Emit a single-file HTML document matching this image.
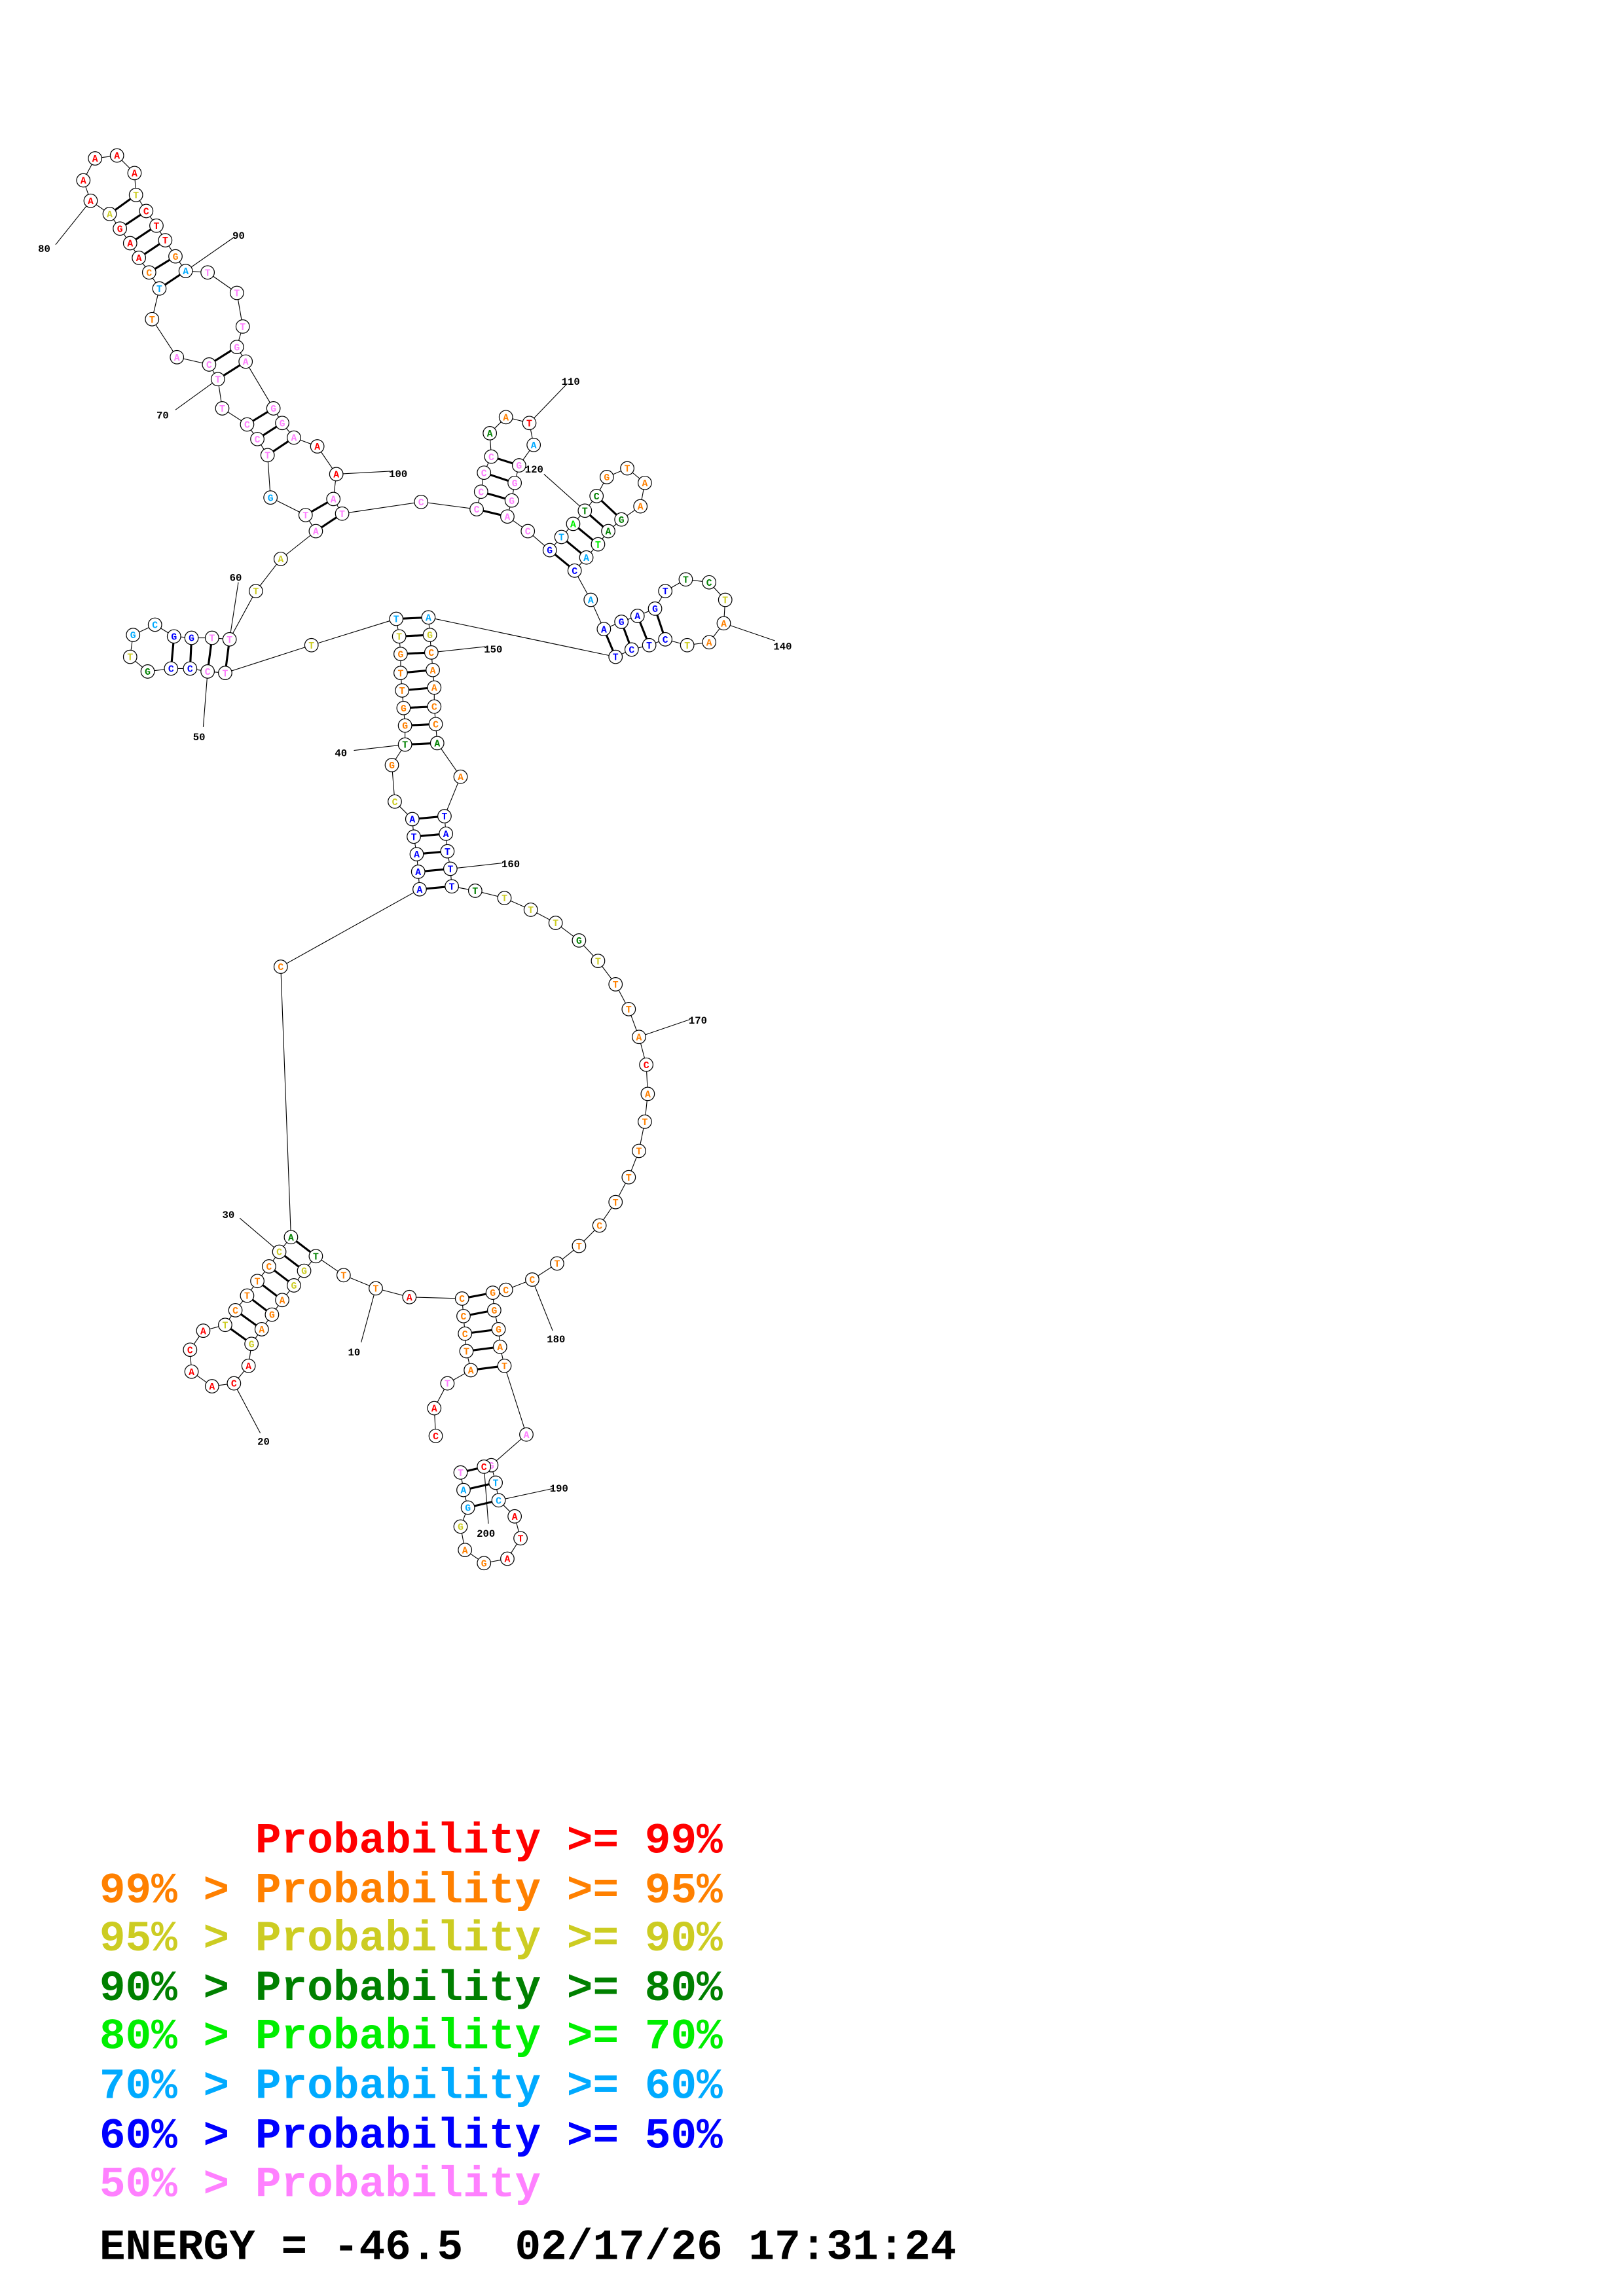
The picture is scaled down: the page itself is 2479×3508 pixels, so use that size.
<!DOCTYPE html>
<html><head><meta charset="utf-8">
<style>
html,body{margin:0;padding:0;background:#fff}
svg{display:block}
.n circle{fill:#fff;stroke:#000;stroke-width:0.55}
.n text{font-family:"Liberation Mono",monospace;font-weight:bold;font-size:6.6px;text-anchor:middle}
.r{fill:#ff0000}.o{fill:#ff8000}.y{fill:#cccc22}.g{fill:#008000}.l{fill:#00ee00}.c{fill:#00aaff}.b{fill:#0000ff}.p{fill:#ff80ff}
.lab{font-family:"Liberation Mono",monospace;font-weight:bold;font-size:7px;fill:#000}
.leg{font-family:"Liberation Mono",monospace;font-weight:bold;font-size:29.6px;white-space:pre}
</style></head><body>
<svg width="2479" height="3508" viewBox="0 0 1110 1570" xmlns="http://www.w3.org/2000/svg">
<rect width="1110" height="1570" fill="#fff"/>
<polyline fill="none" stroke="#000" stroke-width="0.5" points="298,982 297,963 306,946 322,937 319,924 318,912 317,900 316,888 280,887 257,881 235,872 216,859 208,869 201,879 193,889 186,899 179,909 172,919 170,934 160,946 145,948 131,938 130,923 139,910 154,906 161,896 169,886 176,876 184,866 191,856 199,846 192,661 287,608 286,596 285,584 283,572 282,560 270,548 268,523 277,509 277,496 276,484 275,472 274,460 274,447 273,435 271,423 213,441 154,460 142,459 130,457 117,457 101,459 89,449 91,434 106,427 119,435 131,436 145,436 157,437 175,404 192,382 216,363 209,352 185,340 183,311 176,300 169,290 152,279 149,259 143,249 121,244 104,218 109,197 102,186 95,176 89,166 82,156 75,146 62,137 57,123 65,108 80,106 92,118 93,133 100,144 107,154 113,164 120,175 127,185 142,186 162,200 166,223 162,237 168,247 187,279 193,289 201,299 217,305 230,324 228,341 234,351 288,343 326,348 329,336 331,323 336,312 335,296 346,285 362,289 365,304 355,318 352,330 350,342 347,353 361,363 376,376 384,367 392,358 400,349 408,339 415,326 429,320 441,330 438,346 425,355 416,363 409,372 401,381 393,390 404,410 413,430 425,425 436,421 448,416 455,404 469,396 485,398 496,410 495,426 485,439 470,441 455,437 444,441 432,444 421,449 293,422 294,434 295,446 296,458 297,470 297,483 298,495 299,508 315,531 304,558 305,570 306,582 308,594 309,606 325,609 345,614 363,622 380,631 396,643 409,657 421,673 430,690 437,709 442,728 443,748 441,767 437,787 430,805 421,822 410,838 396,852 381,864 364,875 346,882 337,884 338,896 341,909 342,921 345,934 360,981 336,1002 339,1014 341,1026 352,1037 356,1052 347,1066 331,1069 318,1060 315,1044 320,1031 317,1019 315,1007 331,1003"/>
<g stroke="#000" stroke-width="1.4">
<line x1="75" y1="146" x2="93" y2="133"/><line x1="82" y1="156" x2="100" y2="144"/><line x1="89" y1="166" x2="107" y2="154"/><line x1="95" y1="176" x2="113" y2="164"/><line x1="102" y1="186" x2="120" y2="175"/><line x1="109" y1="197" x2="127" y2="185"/>
<line x1="143" y1="249" x2="162" y2="237"/><line x1="149" y1="259" x2="168" y2="247"/>
<line x1="169" y1="290" x2="187" y2="279"/><line x1="176" y1="300" x2="193" y2="289"/><line x1="183" y1="311" x2="201" y2="299"/>
<line x1="209" y1="352" x2="228" y2="341"/><line x1="216" y1="363" x2="234" y2="351"/>
<line x1="119" y1="435" x2="117" y2="457"/><line x1="131" y1="436" x2="130" y2="457"/><line x1="145" y1="436" x2="142" y2="459"/><line x1="157" y1="437" x2="154" y2="460"/>
<line x1="271" y1="423" x2="293" y2="422"/><line x1="273" y1="435" x2="294" y2="434"/><line x1="274" y1="447" x2="295" y2="446"/><line x1="274" y1="460" x2="296" y2="458"/><line x1="275" y1="472" x2="297" y2="470"/><line x1="276" y1="484" x2="297" y2="483"/><line x1="277" y1="496" x2="298" y2="495"/><line x1="277" y1="509" x2="299" y2="508"/>
<line x1="282" y1="560" x2="304" y2="558"/><line x1="283" y1="572" x2="305" y2="570"/><line x1="285" y1="584" x2="306" y2="582"/><line x1="286" y1="596" x2="308" y2="594"/><line x1="287" y1="608" x2="309" y2="606"/>
<line x1="199" y1="846" x2="216" y2="859"/><line x1="191" y1="856" x2="208" y2="869"/><line x1="184" y1="866" x2="201" y2="879"/><line x1="176" y1="876" x2="193" y2="889"/><line x1="169" y1="886" x2="186" y2="899"/><line x1="161" y1="896" x2="179" y2="909"/><line x1="154" y1="906" x2="172" y2="919"/>
<line x1="316" y1="888" x2="337" y2="884"/><line x1="317" y1="900" x2="338" y2="896"/><line x1="318" y1="912" x2="341" y2="909"/><line x1="319" y1="924" x2="342" y2="921"/><line x1="322" y1="937" x2="345" y2="934"/>
<line x1="315" y1="1007" x2="336" y2="1002"/><line x1="317" y1="1019" x2="339" y2="1014"/><line x1="320" y1="1031" x2="341" y2="1026"/>
<line x1="326" y1="348" x2="347" y2="353"/><line x1="329" y1="336" x2="350" y2="342"/><line x1="331" y1="323" x2="352" y2="330"/><line x1="336" y1="312" x2="355" y2="318"/>
<line x1="376" y1="376" x2="393" y2="390"/><line x1="384" y1="367" x2="401" y2="381"/><line x1="392" y1="358" x2="409" y2="372"/><line x1="400" y1="349" x2="416" y2="363"/><line x1="408" y1="339" x2="425" y2="355"/>
<line x1="413" y1="430" x2="421" y2="449"/><line x1="425" y1="425" x2="432" y2="444"/><line x1="436" y1="421" x2="444" y2="441"/><line x1="448" y1="416" x2="455" y2="437"/>
</g>
<g stroke="#000" stroke-width="0.5">
<line x1="38" y1="167" x2="62" y2="137"/><line x1="160" y1="162" x2="127" y2="185"/><line x1="120" y1="280" x2="149" y2="259"/><line x1="267" y1="322" x2="230" y2="324"/><line x1="388" y1="262" x2="362" y2="289"/><line x1="372" y1="324" x2="400" y2="349"/><line x1="163" y1="398" x2="157" y2="437"/><line x1="139" y1="497" x2="142" y2="459"/><line x1="530" y1="438" x2="495" y2="426"/><line x1="332" y1="442" x2="295" y2="446"/><line x1="242" y1="513" x2="277" y2="509"/><line x1="344" y1="590" x2="308" y2="594"/><line x1="472" y1="697" x2="437" y2="709"/><line x1="164" y1="833" x2="191" y2="856"/><line x1="247" y1="918" x2="257" y2="881"/><line x1="178" y1="980" x2="160" y2="946"/><line x1="378" y1="910" x2="364" y2="875"/><line x1="378" y1="1018" x2="341" y2="1026"/><line x1="334" y1="1042" x2="331" y2="1003"/>
</g>
<g class="lab">
<text x="26" y="172">80</text><text x="159" y="163">90</text><text x="107" y="286">70</text><text x="266" y="326">100</text><text x="384" y="263">110</text><text x="359" y="323">120</text><text x="157" y="397">60</text><text x="132" y="506">50</text><text x="529" y="444">140</text><text x="331" y="446">150</text><text x="229" y="517">40</text><text x="343" y="593">160</text><text x="471" y="700">170</text><text x="152" y="833">30</text><text x="238" y="927">10</text><text x="176" y="988">20</text><text x="374" y="918">180</text><text x="376" y="1020">190</text><text x="326" y="1051">200</text>
</g>
<g class="n">
<circle cx="298" cy="982" r="4.6"/><text x="298" y="984.3" class="r">C</text>
<circle cx="297" cy="963" r="4.6"/><text x="297" y="965.3" class="r">A</text>
<circle cx="306" cy="946" r="4.6"/><text x="306" y="948.3" class="p">T</text>
<circle cx="322" cy="937" r="4.6"/><text x="322" y="939.3" class="o">A</text>
<circle cx="319" cy="924" r="4.6"/><text x="319" y="926.3" class="o">T</text>
<circle cx="318" cy="912" r="4.6"/><text x="318" y="914.3" class="o">C</text>
<circle cx="317" cy="900" r="4.6"/><text x="317" y="902.3" class="o">C</text>
<circle cx="316" cy="888" r="4.6"/><text x="316" y="890.3" class="o">C</text>
<circle cx="280" cy="887" r="4.6"/><text x="280" y="889.3" class="r">A</text>
<circle cx="257" cy="881" r="4.6"/><text x="257" y="883.3" class="o">T</text>
<circle cx="235" cy="872" r="4.6"/><text x="235" y="874.3" class="o">T</text>
<circle cx="216" cy="859" r="4.6"/><text x="216" y="861.3" class="g">T</text>
<circle cx="208" cy="869" r="4.6"/><text x="208" y="871.3" class="y">G</text>
<circle cx="201" cy="879" r="4.6"/><text x="201" y="881.3" class="y">G</text>
<circle cx="193" cy="889" r="4.6"/><text x="193" y="891.3" class="o">A</text>
<circle cx="186" cy="899" r="4.6"/><text x="186" y="901.3" class="o">G</text>
<circle cx="179" cy="909" r="4.6"/><text x="179" y="911.3" class="o">A</text>
<circle cx="172" cy="919" r="4.6"/><text x="172" y="921.3" class="y">G</text>
<circle cx="170" cy="934" r="4.6"/><text x="170" y="936.3" class="r">A</text>
<circle cx="160" cy="946" r="4.6"/><text x="160" y="948.3" class="r">C</text>
<circle cx="145" cy="948" r="4.6"/><text x="145" y="950.3" class="r">A</text>
<circle cx="131" cy="938" r="4.6"/><text x="131" y="940.3" class="r">A</text>
<circle cx="130" cy="923" r="4.6"/><text x="130" y="925.3" class="r">C</text>
<circle cx="139" cy="910" r="4.6"/><text x="139" y="912.3" class="r">A</text>
<circle cx="154" cy="906" r="4.6"/><text x="154" y="908.3" class="y">T</text>
<circle cx="161" cy="896" r="4.6"/><text x="161" y="898.3" class="o">C</text>
<circle cx="169" cy="886" r="4.6"/><text x="169" y="888.3" class="o">T</text>
<circle cx="176" cy="876" r="4.6"/><text x="176" y="878.3" class="o">T</text>
<circle cx="184" cy="866" r="4.6"/><text x="184" y="868.3" class="o">C</text>
<circle cx="191" cy="856" r="4.6"/><text x="191" y="858.3" class="y">C</text>
<circle cx="199" cy="846" r="4.6"/><text x="199" y="848.3" class="g">A</text>
<circle cx="192" cy="661" r="4.6"/><text x="192" y="663.3" class="o">C</text>
<circle cx="287" cy="608" r="4.6"/><text x="287" y="610.3" class="b">A</text>
<circle cx="286" cy="596" r="4.6"/><text x="286" y="598.3" class="b">A</text>
<circle cx="285" cy="584" r="4.6"/><text x="285" y="586.3" class="b">A</text>
<circle cx="283" cy="572" r="4.6"/><text x="283" y="574.3" class="b">T</text>
<circle cx="282" cy="560" r="4.6"/><text x="282" y="562.3" class="b">A</text>
<circle cx="270" cy="548" r="4.6"/><text x="270" y="550.3" class="y">C</text>
<circle cx="268" cy="523" r="4.6"/><text x="268" y="525.3" class="o">G</text>
<circle cx="277" cy="509" r="4.6"/><text x="277" y="511.3" class="g">T</text>
<circle cx="277" cy="496" r="4.6"/><text x="277" y="498.3" class="o">G</text>
<circle cx="276" cy="484" r="4.6"/><text x="276" y="486.3" class="o">G</text>
<circle cx="275" cy="472" r="4.6"/><text x="275" y="474.3" class="o">T</text>
<circle cx="274" cy="460" r="4.6"/><text x="274" y="462.3" class="o">T</text>
<circle cx="274" cy="447" r="4.6"/><text x="274" y="449.3" class="o">G</text>
<circle cx="273" cy="435" r="4.6"/><text x="273" y="437.3" class="y">T</text>
<circle cx="271" cy="423" r="4.6"/><text x="271" y="425.3" class="c">T</text>
<circle cx="213" cy="441" r="4.6"/><text x="213" y="443.3" class="y">T</text>
<circle cx="154" cy="460" r="4.6"/><text x="154" y="462.3" class="p">T</text>
<circle cx="142" cy="459" r="4.6"/><text x="142" y="461.3" class="p">C</text>
<circle cx="130" cy="457" r="4.6"/><text x="130" y="459.3" class="b">C</text>
<circle cx="117" cy="457" r="4.6"/><text x="117" y="459.3" class="b">C</text>
<circle cx="101" cy="459" r="4.6"/><text x="101" y="461.3" class="g">G</text>
<circle cx="89" cy="449" r="4.6"/><text x="89" y="451.3" class="y">T</text>
<circle cx="91" cy="434" r="4.6"/><text x="91" y="436.3" class="c">G</text>
<circle cx="106" cy="427" r="4.6"/><text x="106" y="429.3" class="c">C</text>
<circle cx="119" cy="435" r="4.6"/><text x="119" y="437.3" class="b">G</text>
<circle cx="131" cy="436" r="4.6"/><text x="131" y="438.3" class="b">G</text>
<circle cx="145" cy="436" r="4.6"/><text x="145" y="438.3" class="p">T</text>
<circle cx="157" cy="437" r="4.6"/><text x="157" y="439.3" class="p">T</text>
<circle cx="175" cy="404" r="4.6"/><text x="175" y="406.3" class="y">T</text>
<circle cx="192" cy="382" r="4.6"/><text x="192" y="384.3" class="y">A</text>
<circle cx="216" cy="363" r="4.6"/><text x="216" y="365.3" class="p">A</text>
<circle cx="209" cy="352" r="4.6"/><text x="209" y="354.3" class="p">T</text>
<circle cx="185" cy="340" r="4.6"/><text x="185" y="342.3" class="c">G</text>
<circle cx="183" cy="311" r="4.6"/><text x="183" y="313.3" class="p">T</text>
<circle cx="176" cy="300" r="4.6"/><text x="176" y="302.3" class="p">C</text>
<circle cx="169" cy="290" r="4.6"/><text x="169" y="292.3" class="p">C</text>
<circle cx="152" cy="279" r="4.6"/><text x="152" y="281.3" class="p">T</text>
<circle cx="149" cy="259" r="4.6"/><text x="149" y="261.3" class="p">T</text>
<circle cx="143" cy="249" r="4.6"/><text x="143" y="251.3" class="p">C</text>
<circle cx="121" cy="244" r="4.6"/><text x="121" y="246.3" class="p">A</text>
<circle cx="104" cy="218" r="4.6"/><text x="104" y="220.3" class="o">T</text>
<circle cx="109" cy="197" r="4.6"/><text x="109" y="199.3" class="c">T</text>
<circle cx="102" cy="186" r="4.6"/><text x="102" y="188.3" class="o">C</text>
<circle cx="95" cy="176" r="4.6"/><text x="95" y="178.3" class="r">A</text>
<circle cx="89" cy="166" r="4.6"/><text x="89" y="168.3" class="r">A</text>
<circle cx="82" cy="156" r="4.6"/><text x="82" y="158.3" class="r">G</text>
<circle cx="75" cy="146" r="4.6"/><text x="75" y="148.3" class="y">A</text>
<circle cx="62" cy="137" r="4.6"/><text x="62" y="139.3" class="r">A</text>
<circle cx="57" cy="123" r="4.6"/><text x="57" y="125.3" class="r">A</text>
<circle cx="65" cy="108" r="4.6"/><text x="65" y="110.3" class="r">A</text>
<circle cx="80" cy="106" r="4.6"/><text x="80" y="108.3" class="r">A</text>
<circle cx="92" cy="118" r="4.6"/><text x="92" y="120.3" class="r">A</text>
<circle cx="93" cy="133" r="4.6"/><text x="93" y="135.3" class="y">T</text>
<circle cx="100" cy="144" r="4.6"/><text x="100" y="146.3" class="r">C</text>
<circle cx="107" cy="154" r="4.6"/><text x="107" y="156.3" class="r">T</text>
<circle cx="113" cy="164" r="4.6"/><text x="113" y="166.3" class="r">T</text>
<circle cx="120" cy="175" r="4.6"/><text x="120" y="177.3" class="o">G</text>
<circle cx="127" cy="185" r="4.6"/><text x="127" y="187.3" class="c">A</text>
<circle cx="142" cy="186" r="4.6"/><text x="142" y="188.3" class="p">T</text>
<circle cx="162" cy="200" r="4.6"/><text x="162" y="202.3" class="p">T</text>
<circle cx="166" cy="223" r="4.6"/><text x="166" y="225.3" class="p">T</text>
<circle cx="162" cy="237" r="4.6"/><text x="162" y="239.3" class="p">G</text>
<circle cx="168" cy="247" r="4.6"/><text x="168" y="249.3" class="p">A</text>
<circle cx="187" cy="279" r="4.6"/><text x="187" y="281.3" class="p">G</text>
<circle cx="193" cy="289" r="4.6"/><text x="193" y="291.3" class="p">G</text>
<circle cx="201" cy="299" r="4.6"/><text x="201" y="301.3" class="p">A</text>
<circle cx="217" cy="305" r="4.6"/><text x="217" y="307.3" class="r">A</text>
<circle cx="230" cy="324" r="4.6"/><text x="230" y="326.3" class="r">A</text>
<circle cx="228" cy="341" r="4.6"/><text x="228" y="343.3" class="p">A</text>
<circle cx="234" cy="351" r="4.6"/><text x="234" y="353.3" class="p">T</text>
<circle cx="288" cy="343" r="4.6"/><text x="288" y="345.3" class="p">C</text>
<circle cx="326" cy="348" r="4.6"/><text x="326" y="350.3" class="p">C</text>
<circle cx="329" cy="336" r="4.6"/><text x="329" y="338.3" class="p">C</text>
<circle cx="331" cy="323" r="4.6"/><text x="331" y="325.3" class="p">C</text>
<circle cx="336" cy="312" r="4.6"/><text x="336" y="314.3" class="p">C</text>
<circle cx="335" cy="296" r="4.6"/><text x="335" y="298.3" class="g">A</text>
<circle cx="346" cy="285" r="4.6"/><text x="346" y="287.3" class="o">A</text>
<circle cx="362" cy="289" r="4.6"/><text x="362" y="291.3" class="r">T</text>
<circle cx="365" cy="304" r="4.6"/><text x="365" y="306.3" class="c">A</text>
<circle cx="355" cy="318" r="4.6"/><text x="355" y="320.3" class="p">G</text>
<circle cx="352" cy="330" r="4.6"/><text x="352" y="332.3" class="p">G</text>
<circle cx="350" cy="342" r="4.6"/><text x="350" y="344.3" class="p">G</text>
<circle cx="347" cy="353" r="4.6"/><text x="347" y="355.3" class="p">A</text>
<circle cx="361" cy="363" r="4.6"/><text x="361" y="365.3" class="p">C</text>
<circle cx="376" cy="376" r="4.6"/><text x="376" y="378.3" class="b">G</text>
<circle cx="384" cy="367" r="4.6"/><text x="384" y="369.3" class="c">T</text>
<circle cx="392" cy="358" r="4.6"/><text x="392" y="360.3" class="l">A</text>
<circle cx="400" cy="349" r="4.6"/><text x="400" y="351.3" class="g">T</text>
<circle cx="408" cy="339" r="4.6"/><text x="408" y="341.3" class="g">C</text>
<circle cx="415" cy="326" r="4.6"/><text x="415" y="328.3" class="o">G</text>
<circle cx="429" cy="320" r="4.6"/><text x="429" y="322.3" class="o">T</text>
<circle cx="441" cy="330" r="4.6"/><text x="441" y="332.3" class="o">A</text>
<circle cx="438" cy="346" r="4.6"/><text x="438" y="348.3" class="o">A</text>
<circle cx="425" cy="355" r="4.6"/><text x="425" y="357.3" class="g">G</text>
<circle cx="416" cy="363" r="4.6"/><text x="416" y="365.3" class="g">A</text>
<circle cx="409" cy="372" r="4.6"/><text x="409" y="374.3" class="l">T</text>
<circle cx="401" cy="381" r="4.6"/><text x="401" y="383.3" class="c">A</text>
<circle cx="393" cy="390" r="4.6"/><text x="393" y="392.3" class="b">C</text>
<circle cx="404" cy="410" r="4.6"/><text x="404" y="412.3" class="c">A</text>
<circle cx="413" cy="430" r="4.6"/><text x="413" y="432.3" class="b">A</text>
<circle cx="425" cy="425" r="4.6"/><text x="425" y="427.3" class="b">G</text>
<circle cx="436" cy="421" r="4.6"/><text x="436" y="423.3" class="b">A</text>
<circle cx="448" cy="416" r="4.6"/><text x="448" y="418.3" class="b">G</text>
<circle cx="455" cy="404" r="4.6"/><text x="455" y="406.3" class="b">T</text>
<circle cx="469" cy="396" r="4.6"/><text x="469" y="398.3" class="g">T</text>
<circle cx="485" cy="398" r="4.6"/><text x="485" y="400.3" class="g">C</text>
<circle cx="496" cy="410" r="4.6"/><text x="496" y="412.3" class="y">T</text>
<circle cx="495" cy="426" r="4.6"/><text x="495" y="428.3" class="o">A</text>
<circle cx="485" cy="439" r="4.6"/><text x="485" y="441.3" class="o">A</text>
<circle cx="470" cy="441" r="4.6"/><text x="470" y="443.3" class="y">T</text>
<circle cx="455" cy="437" r="4.6"/><text x="455" y="439.3" class="b">C</text>
<circle cx="444" cy="441" r="4.6"/><text x="444" y="443.3" class="b">T</text>
<circle cx="432" cy="444" r="4.6"/><text x="432" y="446.3" class="b">C</text>
<circle cx="421" cy="449" r="4.6"/><text x="421" y="451.3" class="b">T</text>
<circle cx="293" cy="422" r="4.6"/><text x="293" y="424.3" class="c">A</text>
<circle cx="294" cy="434" r="4.6"/><text x="294" y="436.3" class="y">G</text>
<circle cx="295" cy="446" r="4.6"/><text x="295" y="448.3" class="o">C</text>
<circle cx="296" cy="458" r="4.6"/><text x="296" y="460.3" class="o">A</text>
<circle cx="297" cy="470" r="4.6"/><text x="297" y="472.3" class="o">A</text>
<circle cx="297" cy="483" r="4.6"/><text x="297" y="485.3" class="o">C</text>
<circle cx="298" cy="495" r="4.6"/><text x="298" y="497.3" class="o">C</text>
<circle cx="299" cy="508" r="4.6"/><text x="299" y="510.3" class="g">A</text>
<circle cx="315" cy="531" r="4.6"/><text x="315" y="533.3" class="o">A</text>
<circle cx="304" cy="558" r="4.6"/><text x="304" y="560.3" class="b">T</text>
<circle cx="305" cy="570" r="4.6"/><text x="305" y="572.3" class="b">A</text>
<circle cx="306" cy="582" r="4.6"/><text x="306" y="584.3" class="b">T</text>
<circle cx="308" cy="594" r="4.6"/><text x="308" y="596.3" class="b">T</text>
<circle cx="309" cy="606" r="4.6"/><text x="309" y="608.3" class="b">T</text>
<circle cx="325" cy="609" r="4.6"/><text x="325" y="611.3" class="g">T</text>
<circle cx="345" cy="614" r="4.6"/><text x="345" y="616.3" class="y">T</text>
<circle cx="363" cy="622" r="4.6"/><text x="363" y="624.3" class="y">T</text>
<circle cx="380" cy="631" r="4.6"/><text x="380" y="633.3" class="y">T</text>
<circle cx="396" cy="643" r="4.6"/><text x="396" y="645.3" class="g">G</text>
<circle cx="409" cy="657" r="4.6"/><text x="409" y="659.3" class="y">T</text>
<circle cx="421" cy="673" r="4.6"/><text x="421" y="675.3" class="o">T</text>
<circle cx="430" cy="690" r="4.6"/><text x="430" y="692.3" class="o">T</text>
<circle cx="437" cy="709" r="4.6"/><text x="437" y="711.3" class="o">A</text>
<circle cx="442" cy="728" r="4.6"/><text x="442" y="730.3" class="r">C</text>
<circle cx="443" cy="748" r="4.6"/><text x="443" y="750.3" class="o">A</text>
<circle cx="441" cy="767" r="4.6"/><text x="441" y="769.3" class="o">T</text>
<circle cx="437" cy="787" r="4.6"/><text x="437" y="789.3" class="o">T</text>
<circle cx="430" cy="805" r="4.6"/><text x="430" y="807.3" class="o">T</text>
<circle cx="421" cy="822" r="4.6"/><text x="421" y="824.3" class="o">T</text>
<circle cx="410" cy="838" r="4.6"/><text x="410" y="840.3" class="o">C</text>
<circle cx="396" cy="852" r="4.6"/><text x="396" y="854.3" class="o">T</text>
<circle cx="381" cy="864" r="4.6"/><text x="381" y="866.3" class="o">T</text>
<circle cx="364" cy="875" r="4.6"/><text x="364" y="877.3" class="o">C</text>
<circle cx="346" cy="882" r="4.6"/><text x="346" y="884.3" class="o">C</text>
<circle cx="337" cy="884" r="4.6"/><text x="337" y="886.3" class="o">G</text>
<circle cx="338" cy="896" r="4.6"/><text x="338" y="898.3" class="o">G</text>
<circle cx="341" cy="909" r="4.6"/><text x="341" y="911.3" class="o">G</text>
<circle cx="342" cy="921" r="4.6"/><text x="342" y="923.3" class="o">A</text>
<circle cx="345" cy="934" r="4.6"/><text x="345" y="936.3" class="o">T</text>
<circle cx="360" cy="981" r="4.6"/><text x="360" y="983.3" class="p">A</text>
<circle cx="336" cy="1002" r="4.6"/><text x="336" y="1004.3" class="p">G</text>
<circle cx="339" cy="1014" r="4.6"/><text x="339" y="1016.3" class="c">T</text>
<circle cx="341" cy="1026" r="4.6"/><text x="341" y="1028.3" class="c">C</text>
<circle cx="352" cy="1037" r="4.6"/><text x="352" y="1039.3" class="r">A</text>
<circle cx="356" cy="1052" r="4.6"/><text x="356" y="1054.3" class="r">T</text>
<circle cx="347" cy="1066" r="4.6"/><text x="347" y="1068.3" class="r">A</text>
<circle cx="331" cy="1069" r="4.6"/><text x="331" y="1071.3" class="o">G</text>
<circle cx="318" cy="1060" r="4.6"/><text x="318" y="1062.3" class="o">A</text>
<circle cx="315" cy="1044" r="4.6"/><text x="315" y="1046.3" class="y">G</text>
<circle cx="320" cy="1031" r="4.6"/><text x="320" y="1033.3" class="c">G</text>
<circle cx="317" cy="1019" r="4.6"/><text x="317" y="1021.3" class="c">A</text>
<circle cx="315" cy="1007" r="4.6"/><text x="315" y="1009.3" class="p">T</text>
<circle cx="331" cy="1003" r="4.6"/><text x="331" y="1005.3" class="r">C</text>
</g>
<g class="leg">
<text x="68" y="1267" fill="#ff0000" xml:space="preserve">      Probability &gt;= 99%</text>
<text x="68" y="1301" fill="#ff8000" xml:space="preserve">99% &gt; Probability &gt;= 95%</text>
<text x="68" y="1334" fill="#cccc22" xml:space="preserve">95% &gt; Probability &gt;= 90%</text>
<text x="68" y="1368" fill="#008000" xml:space="preserve">90% &gt; Probability &gt;= 80%</text>
<text x="68" y="1401" fill="#00ee00" xml:space="preserve">80% &gt; Probability &gt;= 70%</text>
<text x="68" y="1435" fill="#00aaff" xml:space="preserve">70% &gt; Probability &gt;= 60%</text>
<text x="68" y="1469" fill="#0000ff" xml:space="preserve">60% &gt; Probability &gt;= 50%</text>
<text x="68" y="1502" fill="#ff80ff" xml:space="preserve">50% &gt; Probability</text>
<text x="68" y="1545" fill="#000" xml:space="preserve">ENERGY = -46.5  02/17/26 17:31:24</text>
</g>
</svg>
</body></html>
